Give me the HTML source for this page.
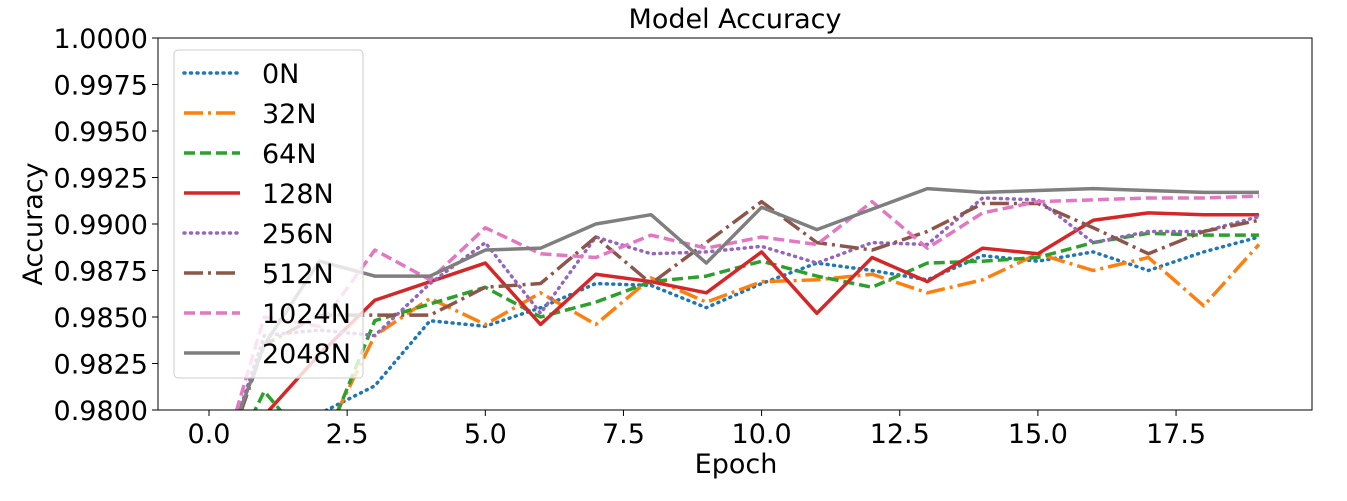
<!DOCTYPE html>
<html><head><meta charset="utf-8"><style>
body{margin:0;background:#fff;font-family:"Liberation Sans","DejaVu Sans",sans-serif}
svg text{font-family:"DejaVu Sans","Liberation Sans",sans-serif;fill:#000}
</style></head><body>
<svg id="chart" width="1347" height="496" xmlns="http://www.w3.org/2000/svg">
<text x="735" y="28" font-size="27" text-anchor="middle">Model Accuracy</text>
<g id="plot"></g>
</svg>
<script>
const epochs=[0,1,2,3,4,5,6,7,8,9,10,11,12,13,14,15,16,17,18,19];
const s0N=[0.975,0.977,0.9798,0.9813,0.9848,0.9845,0.9855,0.9868,0.9867,0.9855,0.9868,0.9879,0.9875,0.9870,0.9883,0.9880,0.9885,0.9875,0.9885,0.9893];
const s32N=[0.975,0.976,0.978,0.9840,0.9860,0.9846,0.9863,0.9846,0.9871,0.9858,0.9869,0.9870,0.9873,0.9863,0.9870,0.9884,0.9875,0.9882,0.9856,0.9889];
const s64N=[0.975,0.9810,0.9775,0.9848,0.9857,0.9866,0.9850,0.9858,0.9869,0.9872,0.9880,0.9872,0.9866,0.9879,0.9880,0.9882,0.9890,0.9895,0.9894,0.9894];
const s128N=[0.9765,0.9797,0.9830,0.9859,0.9869,0.9879,0.9846,0.9873,0.9869,0.9863,0.9885,0.9852,0.9882,0.9869,0.9887,0.9884,0.9902,0.9906,0.9905,0.9905];
const s256N=[0.975,0.984,0.9843,0.9840,0.9868,0.9890,0.9852,0.9893,0.9884,0.9885,0.9888,0.9879,0.9890,0.9889,0.9914,0.9913,0.9890,0.9896,0.9896,0.9904];
const s512N=[0.975,0.9835,0.9851,0.9851,0.9851,0.9866,0.9868,0.9893,0.9868,0.9890,0.9912,0.9890,0.9886,0.9896,0.9911,0.9911,0.9898,0.9884,0.9896,0.9902];
const s1024N=[0.975,0.985,0.9845,0.9886,0.9870,0.9898,0.9884,0.9882,0.9894,0.9887,0.9893,0.9889,0.9912,0.9887,0.9906,0.9912,0.9913,0.9914,0.9914,0.9915];
const s2048N=[0.9755,0.9835,0.9880,0.9872,0.9872,0.9886,0.9887,0.9900,0.9905,0.9879,0.9909,0.9897,0.9908,0.9919,0.9917,0.9918,0.9919,0.9918,0.9917,0.9917];
const yTicks=[0.98,0.9825,0.985,0.9875,0.99,0.9925,0.995,0.9975,1.0];
const yTickLabels=["0.9800","0.9825","0.9850","0.9875","0.9900","0.9925","0.9950","0.9975","1.0000"];
const xTicks=[0,2.5,5,7.5,10,12.5,15,17.5];
const xTickLabels=["0.0","2.5","5.0","7.5","10.0","12.5","15.0","17.5"];
const seriesNames=["0N","32N","64N","128N","256N","512N","1024N","2048N"];

const L=158,R=1312,T=38,B=410;
const X=v=>209+v*55.26;
const Y=v=>B-(v-0.98)/0.02*(B-T);
const NS="http://www.w3.org/2000/svg";
const g=document.getElementById('plot');
function mk(t,a,p){const e=document.createElementNS(NS,t);for(const k in a)e.setAttribute(k,a[k]);(p||g).appendChild(e);return e;}
const defs=mk('defs',{});
const cp=mk('clipPath',{id:'clip'},defs);mk('rect',{x:L,y:T,width:R-L,height:B-T},cp);
const styles=[
 {c:'#1f77b4',d:'1,5.5',cap:'round'},
 {c:'#ff7f0e',d:'19,5,3,5',cap:'butt'},
 {c:'#2ca02c',d:'11,5',cap:'butt'},
 {c:'#d62728',d:'',cap:'butt'},
 {c:'#9467bd',d:'1,5.5',cap:'round'},
 {c:'#8c564b',d:'19,5,3,5',cap:'butt'},
 {c:'#e377c2',d:'11,5',cap:'butt'},
 {c:'#7f7f7f',d:'',cap:'butt'}];
const all=[s0N,s32N,s64N,s128N,s256N,s512N,s1024N,s2048N];
const lg=mk('g',{'clip-path':'url(#clip)'});


all.forEach((s,i)=>{
 const p=mk('polyline',{points:s.map((v,j)=>X(epochs[j])+','+Y(v)).join(' '),fill:'none',stroke:styles[i].c,'stroke-width':3.5,'stroke-dasharray':styles[i].d,'stroke-linecap':styles[i].cap,'stroke-linejoin':'round'},lg);
 
 
});
const fr=mk('rect',{x:L,y:T,width:R-L,height:B-T,fill:'none',stroke:'#000','stroke-width':1});


yTicks.forEach((v,i)=>{
 mk('line',{x1:L-6,x2:L,y1:Y(v),y2:Y(v),stroke:'#000'});
 const t=mk('text',{x:L-10,y:Y(v)+10,'font-size':27,'text-anchor':'end'});t.textContent=yTickLabels[i];
 
 
});
xTicks.forEach((v,i)=>{
 mk('line',{x1:X(v),x2:X(v),y1:B,y2:B+6,stroke:'#000'});
 const t=mk('text',{x:X(v),y:B+33,'font-size':27,'text-anchor':'middle'});t.textContent=xTickLabels[i];
 
 
});
const xt=mk('text',{x:736,y:473,'font-size':27,'text-anchor':'middle'});xt.textContent='Epoch';


const yt=mk('text',{x:42,y:224,'font-size':27,'text-anchor':'middle',transform:'rotate(-90 42 224)'});yt.textContent='Accuracy';


const leg=mk('g',{});


mk('rect',{x:174,y:50,width:189,height:328,rx:4,fill:'rgba(255,255,255,0.8)',stroke:'#ccc'},leg);
seriesNames.forEach((n,i)=>{
 const y=73+i*40;
 const e=mk('g',{},leg);
 
 
 mk('line',{x1:184,x2:240,y1:y,y2:y,stroke:styles[i].c,'stroke-width':3.5,'stroke-dasharray':styles[i].d,'stroke-linecap':styles[i].cap},e);
 const t=mk('text',{x:262,y:y+10,'font-size':27},e);t.textContent=n;
});
</script>
</body></html>
